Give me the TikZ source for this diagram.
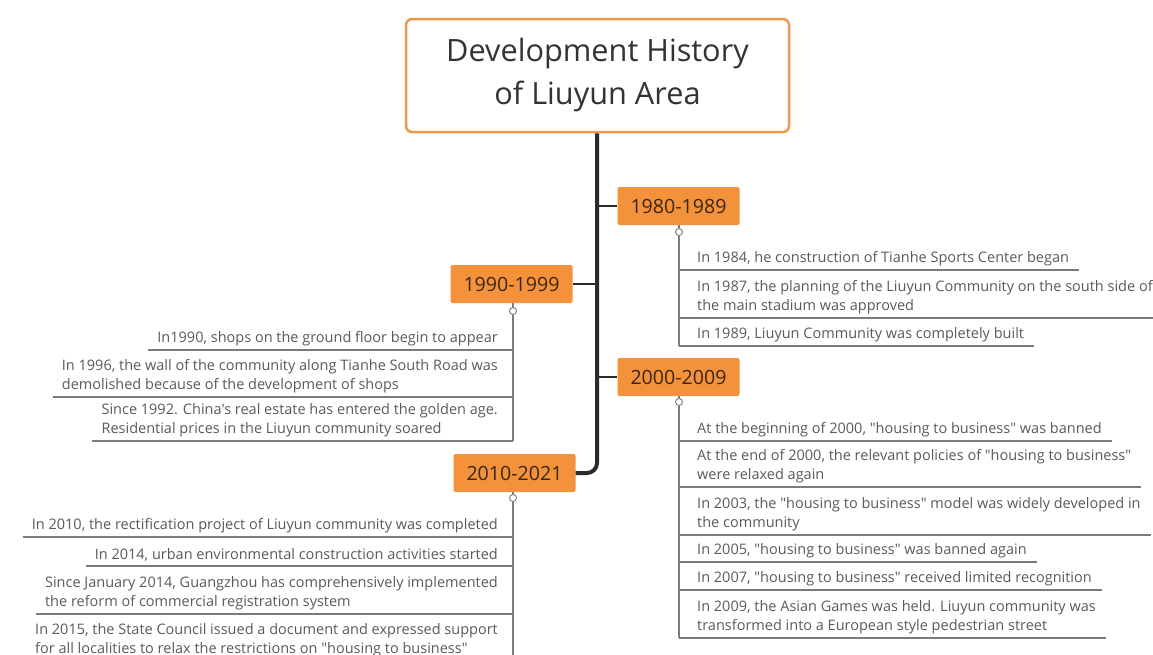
\documentclass[tikz,border=0pt]{standalone}
\usepackage{fontspec}
\setmainfont{Open Sans}[Ligatures=TeXOff]
\newcommand\dq{"}
\definecolor{org}{HTML}{F4923C}
\definecolor{ttl}{HTML}{EE9A4D}
\definecolor{txt}{HTML}{333333}
\definecolor{etxt}{HTML}{3A2614}
\definecolor{itx}{HTML}{5A5A5A}
\definecolor{lgray}{HTML}{7A7A7A}
\definecolor{dark}{HTML}{2B2B2B}
\begin{document}
\begin{tikzpicture}[x=1pt,y=-1pt,
  title/.style={draw=ttl, line width=2.5pt, rounded corners=6pt, fill=white, minimum width=383pt, minimum height=113pt, align=center, font=\fontsize{30.7}{43}\selectfont, text=txt},
  era/.style={fill=org, rounded corners=2pt, minimum width=122pt, minimum height=38pt, inner sep=0pt, font=\fontsize{19.6}{22}\selectfont, text=etxt},
  itemR/.style={anchor=south west, align=left, inner xsep=10pt, inner ysep=4pt, font=\fontsize{14.5}{19}\selectfont, text=itx},
  itemL/.style={anchor=south east, align=left, inner xsep=9pt, inner ysep=4pt, font=\fontsize{14.5}{19}\selectfont, text=itx},
  uline/.style={draw=lgray, line width=1.2pt},
  twigline/.style={draw=lgray, line width=1.2pt},
  marker/.style={circle, draw=lgray, fill=white, line width=0.9pt, inner sep=0pt, minimum size=7pt},
  trunk/.style={draw=dark, line width=4pt, rounded corners=10pt},
  branch/.style={draw=dark, line width=1.5pt}
]
\useasboundingbox (0,0) rectangle (1153,654);
\fill[white] (0,0) rectangle (1153,654);

% title
\node[title] (root) at (597.5,75.5) {Development History\\of Liuyun Area};

% era boxes
\node[era] (e80) at (678.5,206) {1980-1989};
\node[era] (e90) at (511.5,284) {1990-1999};
\node[era] (e00) at (678.5,377) {2000-2009};
\node[era] (e10) at (514.5,473) {2010-2021};

% trunk
\coordinate (tk80) at (597,206);
\coordinate (tk90) at (597,284);
\coordinate (tk00) at (597,377);
\draw[trunk] (root.south -| 597,0) |- (e10.east);
\draw[branch] (tk80) -- (e80.west);
\draw[branch] (tk90) -- (e90.east);
\draw[branch] (tk00) -- (e00.west);

% markers
\node[marker] (m80) at (679,232) {};
\node[marker] (m90) at (513,311) {};
\node[marker] (m00) at (679,402) {};
\node[marker] (m10) at (513,498) {};
\draw[twigline] (e80.south -| m80) -- (m80.north);
\draw[twigline] (e90.south -| m90) -- (m90.north);
\draw[twigline] (e00.south -| m00) -- (m00.north);
\draw[twigline] (e10.south -| m10) -- (m10.north);

% 1980-1989 items
\node[itemR] (a1) at (687,270) {In 1984, he construction of Tianhe Sports Center began};
\node[itemR] (a2) at (687,318) {In 1987, the planning of the Liuyun Community on the south side of\\the main stadium was approved};
\node[itemR] (a3) at (687,346) {In 1989, Liuyun Community was completely built};
\draw[twigline] (m80.south) -- (a3.south -| m80);
\foreach \n in {a1,a2,a3} \draw[uline] (\n.south -| m80) -- (\n.south east);

% 1990-1999 items
\node[itemL] (b1) at (507,350) {In1990, shops on the ground floor begin to appear};
\node[itemL] (b2) at (507,397) {In 1996, the wall of the community along Tianhe South Road was\\demolished because of the development of shops};
\node[itemL] (b3) at (507,441) {Since 1992. China's real estate has entered the golden age.\\Residential prices in the Liuyun community soared};
\draw[twigline] (m90.south) -- (b3.south -| m90);
\foreach \n in {b1,b2,b3} \draw[uline] (\n.south -| m90) -- (\n.south west);

% 2000-2009 items
\node[itemR] (c1) at (687,441) {At the beginning of 2000, \dq housing to business\dq\ was banned};
\node[itemR] (c2) at (687,487) {At the end of 2000, the relevant policies of \dq housing to business\dq\\were relaxed again};
\node[itemR] (c3) at (687,535) {In 2003, the \dq housing to business\dq\ model was widely developed in\\the community};
\node[itemR] (c4) at (687,562) {In 2005, \dq housing to business\dq\ was banned again};
\node[itemR] (c5) at (687,590) {In 2007, \dq housing to business\dq\ received limited recognition};
\node[itemR] (c6) at (687,638) {In 2009, the Asian Games was held. Liuyun community was\\transformed into a European style pedestrian street};
\draw[twigline] (m00.south) -- (c6.south -| m00);
\foreach \n in {c1,c2,c3,c4,c5,c6} \draw[uline] (\n.south -| m00) -- (\n.south east);

% 2010-2021 items
\node[itemL] (d1) at (507,537) {In 2010, the rectification project of Liuyun community was completed};
\node[itemL] (d2) at (507,566) {In 2014, urban environmental construction activities started};
\node[itemL] (d3) at (507,614) {Since January 2014, Guangzhou has comprehensively implemented\\the reform of commercial registration system};
\node[itemL] (d4) at (507,661) {In 2015, the State Council issued a document and expressed support\\for all localities to relax the restrictions on \dq housing to business\dq};
\draw[twigline] (m10.south) -- (d4.south -| m10);
\foreach \n in {d1,d2,d3} \draw[uline] (\n.south -| m10) -- (\n.south west);
\end{tikzpicture}
\end{document}
